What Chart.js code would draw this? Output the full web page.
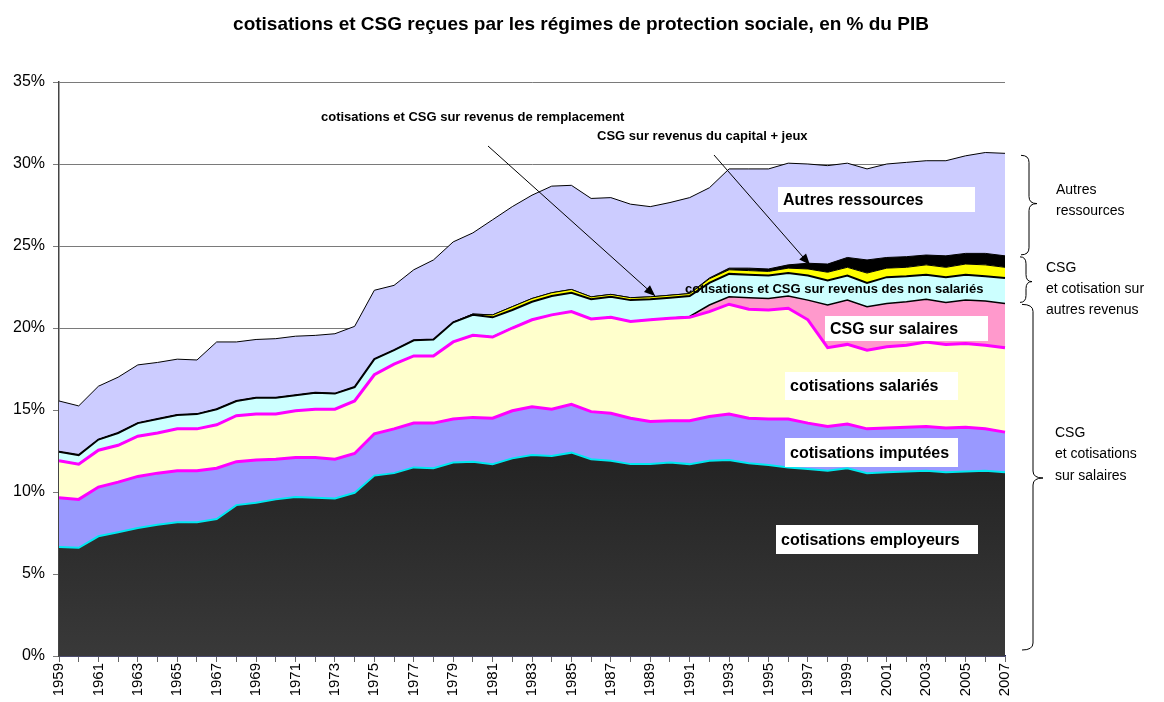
<!DOCTYPE html>
<html>
<head>
<meta charset="utf-8">
<script src="https://cdn.jsdelivr.net/npm/chart.js@4.4.1/dist/chart.umd.min.js"></script>
<style>
  html, body { margin: 0; padding: 0; background: #fff; }
  #wrap { width: 1164px; height: 702px; position: relative; }
</style>
</head>
<body>
<div id="wrap"><canvas id="chart"></canvas></div>
<script>
// années 1959 - 2007
const years = [];
for (let y = 1959; y <= 2007; y++) years.push(String(y));

// valeurs en % du PIB (une couche par série, empilées)
const employeurs = [6.65, 6.6, 7.3, 7.55, 7.8, 8.0, 8.15, 8.15, 8.35, 9.2, 9.35, 9.55, 9.7, 9.65, 9.6, 9.95,
  11.0, 11.15, 11.5, 11.45, 11.8, 11.85, 11.7, 12.05, 12.25, 12.2, 12.4, 12.0, 11.9, 11.7, 11.7, 11.8,
  11.7, 11.9, 11.95, 11.75, 11.65, 11.5, 11.4, 11.3, 11.45, 11.15, 11.2, 11.25, 11.3, 11.2, 11.25, 11.3, 11.2];
const imputees = [3.0, 2.95, 3.0, 3.05, 3.15, 3.15, 3.15, 3.15, 3.1, 2.65, 2.6, 2.45, 2.4, 2.45, 2.4, 2.4,
  2.55, 2.7, 2.7, 2.75, 2.65, 2.7, 2.8, 2.9, 2.95, 2.85, 2.95, 2.9, 2.9, 2.8, 2.6, 2.55,
  2.65, 2.7, 2.8, 2.75, 2.8, 2.95, 2.8, 2.7, 2.7, 2.7, 2.7, 2.7, 2.7, 2.7, 2.7, 2.55, 2.45];
const salaries = [2.25, 2.15, 2.25, 2.25, 2.45, 2.45, 2.55, 2.55, 2.65, 2.8, 2.8, 2.75, 2.85, 2.95, 3.05, 3.2,
  3.6, 3.95, 4.1, 4.1, 4.7, 5.0, 4.95, 5.05, 5.3, 5.75, 5.65, 5.65, 5.85, 5.9, 6.2, 6.25,
  6.3, 6.4, 6.7, 6.65, 6.65, 6.75, 6.3, 4.8, 4.85, 4.8, 4.95, 5.0, 5.15, 5.1, 5.1, 5.1, 5.15];
const csgSalaires = [0, 0, 0, 0, 0, 0, 0, 0, 0, 0, 0, 0, 0, 0, 0, 0,
  0, 0, 0, 0, 0, 0, 0, 0, 0, 0, 0, 0, 0, 0, 0, 0,
  0.05, 0.4, 0.45, 0.7, 0.7, 0.75, 1.2, 2.6, 2.7, 2.65, 2.65, 2.65, 2.6, 2.55, 2.65, 2.7, 2.7];
const nonSalaries = [0.55, 0.55, 0.65, 0.75, 0.8, 0.85, 0.85, 0.9, 0.95, 0.9, 1.0, 1.0, 0.95, 1.0, 0.95, 0.85,
  0.95, 0.85, 0.95, 1.0, 1.2, 1.25, 1.2, 1.1, 1.1, 1.15, 1.15, 1.2, 1.25, 1.3, 1.25, 1.25,
  1.25, 1.35, 1.4, 1.4, 1.4, 1.4, 1.5, 1.5, 1.5, 1.45, 1.6, 1.55, 1.5, 1.55, 1.55, 1.5, 1.55];
const remplacement = [0, 0, 0, 0, 0, 0, 0, 0, 0, 0, 0, 0, 0, 0, 0, 0,
  0, 0, 0, 0, 0, 0.05, 0.15, 0.2, 0.2, 0.2, 0.2, 0.15, 0.15, 0.15, 0.15, 0.15,
  0.15, 0.25, 0.25, 0.25, 0.25, 0.3, 0.4, 0.5, 0.5, 0.6, 0.55, 0.55, 0.6, 0.6, 0.65, 0.7, 0.65];
const capital = [0, 0, 0, 0, 0, 0, 0, 0, 0, 0, 0, 0, 0, 0, 0, 0,
  0, 0, 0, 0, 0, 0, 0, 0, 0, 0, 0, 0, 0, 0, 0, 0,
  0, 0.05, 0.1, 0.15, 0.15, 0.2, 0.35, 0.5, 0.6, 0.8, 0.65, 0.65, 0.6, 0.7, 0.65, 0.7, 0.7];
const autres = [3.1, 3.0, 3.25, 3.4, 3.55, 3.45, 3.4, 3.3, 4.1, 3.6, 3.55, 3.6, 3.6, 3.5, 3.65, 3.7,
  4.2, 3.95, 4.3, 4.85, 4.9, 4.95, 5.8, 6.1, 6.3, 6.5, 6.35, 6.0, 5.9, 5.7, 5.5, 5.65,
  5.85, 5.5, 6.05, 6.05, 6.1, 6.2, 6.05, 6.0, 5.75, 5.55, 5.7, 5.75, 5.75, 5.8, 5.95, 6.15, 6.25];

const yTicks = [0, 5, 10, 15, 20, 25, 30, 35];

const FONT = "'Liberation Sans', Arial, sans-serif";

// dégradé du fond pour les cotisations employeurs
function darkGradient(ctx) {
  const chart = ctx.chart;
  const ca = chart.chartArea;
  if (!ca) return '#2a2a2a';
  const g = chart.ctx.createLinearGradient(0, ca.top + (ca.bottom - ca.top) * 0.62, 0, ca.bottom);
  g.addColorStop(0, '#212121');
  g.addColorStop(1, '#393939');
  return g;
}

function layer(label, data, bg, border, width, fill) {
  return {
    label: label,
    data: data,
    backgroundColor: bg,
    borderColor: border,
    borderWidth: width,
    fill: fill,
    pointRadius: 0,
    pointHoverRadius: 0,
    tension: 0
  };
}

// annotations : titre, étiquettes, flèches, accolades
const annotations = {
  id: 'annotations',
  afterDraw(chart) {
    const c = chart.ctx;
    const x = chart.scales.x, y = chart.scales.y;
    const last = years.length - 1;
    const xAt = (i) => {
      const k = Math.floor(i);
      const f = i - k;
      const p0 = x.getPixelForValue(k);
      return f ? p0 + f * (x.getPixelForValue(k + 1) - p0) : p0;
    };
    c.save();

    // titre
    c.fillStyle = '#000';
    c.font = 'bold 19px ' + FONT;
    c.textAlign = 'center';
    c.textBaseline = 'middle';
    c.fillText('cotisations et CSG reçues par les régimes de protection sociale, en % du PIB', 581, 25);

    // étiquettes sur fond blanc
    const boxes = [
      ['Autres ressources', 778, 187, 197, 25],
      ['CSG sur salaires', 825, 316, 163, 25],
      ['cotisations salariés', 785, 372, 173, 28],
      ['cotisations imputées', 785, 438, 173, 29],
      ['cotisations employeurs', 776, 525, 202, 29]
    ];
    c.textAlign = 'left';
    c.font = 'bold 16px ' + FONT;
    boxes.forEach(b => {
      c.fillStyle = '#fff';
      c.fillRect(b[1], b[2], b[3], b[4]);
      c.fillStyle = '#000';
      c.fillText(b[0], b[1] + 5, b[2] + b[4] / 2 + 1);
    });

    // petites étiquettes
    c.font = 'bold 13px ' + FONT;
    c.fillText('cotisations et CSG sur revenus de remplacement', 321, 117);
    c.fillText('CSG sur revenus du capital + jeux', 597, 136);
    c.fillText('cotisations et CSG sur revenus des non salariés', 685, 289);

    // flèches
    function arrow(x0, y0, x1, y1) {
      c.strokeStyle = '#000';
      c.fillStyle = '#000';
      c.lineWidth = 1;
      c.beginPath();
      c.moveTo(x0, y0);
      c.lineTo(x1, y1);
      c.stroke();
      const a = Math.atan2(y1 - y0, x1 - x0);
      const L = 11, W = 4.5;
      c.beginPath();
      c.moveTo(x1, y1);
      c.lineTo(x1 - L * Math.cos(a) + W * Math.sin(a), y1 - L * Math.sin(a) - W * Math.cos(a));
      c.lineTo(x1 - L * Math.cos(a) - W * Math.sin(a), y1 - L * Math.sin(a) + W * Math.cos(a));
      c.closePath();
      c.fill();
    }
    arrow(488, 146, xAt(30.25), y.getPixelForValue(21.95));
    arrow(714, 155, xAt(38.1), y.getPixelForValue(23.85));

    // accolades à droite (bornes prises sur les valeurs 2007)
    let acc = 0;
    const cum = [employeurs, imputees, salaries, csgSalaires, nonSalaries, remplacement, capital, autres]
      .map(s => (acc += s[last]));
    const yTotal = y.getPixelForValue(cum[7]);
    const yCap = y.getPixelForValue(cum[6]);
    const yCsg = y.getPixelForValue(cum[3]);
    const yZero = y.getPixelForValue(0);

    function brace(x0, stem, tip, top, bottom, mid) {
      const r = 7;
      c.strokeStyle = '#000';
      c.lineWidth = 1;
      c.beginPath();
      c.moveTo(x0, top);
      c.quadraticCurveTo(stem, top, stem, top + r);
      c.lineTo(stem, mid - r);
      c.quadraticCurveTo(stem, mid, tip, mid);
      c.quadraticCurveTo(stem, mid, stem, mid + r);
      c.lineTo(stem, bottom - r);
      c.quadraticCurveTo(stem, bottom, x0, bottom);
      c.stroke();
    }
    brace(1021, 1029, 1037, yTotal + 2, yCap - 1, (yTotal + yCap) / 2 - 1);
    brace(1020, 1026, 1032, yCap + 1, yCsg - 1, (yCap + yCsg) / 2 + 2);
    brace(1022, 1033, 1043, yCsg + 1, yZero - 6, 478);

    c.font = '14px ' + FONT;
    c.fillStyle = '#000';
    [['Autres', 1056, 190], ['ressources', 1056, 211],
     ['CSG', 1046, 268], ['et cotisation sur', 1046, 289], ['autres revenus', 1046, 310],
     ['CSG', 1055, 433], ['et cotisations', 1055, 454], ['sur salaires', 1055, 476]]
      .forEach(t => c.fillText(t[0], t[1], t[2]));

    c.restore();
  }
};

const ctx = document.getElementById('chart').getContext('2d');
const chart = new Chart(ctx, {
  type: 'line',
  data: {
    labels: years,
    datasets: [
      layer('cotisations employeurs', employeurs, darkGradient, '#00e8f0', 2, 'origin'),
      layer('cotisations imputées', imputees, '#9999ff', '#ff00ff', 3, '-1'),
      layer('cotisations salariés', salaries, '#ffffcc', '#ff00ff', 3, '-1'),
      layer('CSG sur salaires', csgSalaires, '#ff99cc', '#000000', 1.5, '-1'),
      layer('cotisations et CSG sur revenus des non salariés', nonSalaries, '#ccffff', '#000000', 2, '-1'),
      layer('cotisations et CSG sur revenus de remplacement', remplacement, '#ffff00', '#000000', 1, '-1'),
      layer('CSG sur revenus du capital + jeux', capital, '#000000', '#000000', 1, '-1'),
      layer('Autres ressources', autres, '#ccccff', '#000000', 1, '-1')
    ]
  },
  options: {
    responsive: true,
    maintainAspectRatio: false,
    animation: false,
    layout: { padding: { top: 82, right: 159, left: 0, bottom: 0 } },
    plugins: {
      legend: { display: false },
      title: { display: false },
      tooltip: { enabled: false }
    },
    scales: {
      x: {
        offset: false,
        afterFit: (s) => { s.height = 46; },
        grid: { drawOnChartArea: false, drawTicks: true, tickLength: 6, color: '#666' },
        border: { color: '#1a1a60', width: 1.5 },
        ticks: {
          autoSkip: false,
          minRotation: 90,
          maxRotation: 90,
          padding: 1,
          color: '#000',
          font: { family: FONT, size: 15 },
          callback: function (val, idx) { return idx % 2 === 0 ? this.getLabelForValue(val) : ''; }
        }
      },
      y: {
        stacked: true,
        min: 0,
        max: 35,
        afterFit: (s) => { s.width = 59; },
        afterBuildTicks: (s) => { s.ticks = yTicks.map(v => ({ value: v })); },
        grid: { color: '#7a7a7a', lineWidth: 1, tickLength: 6, drawTicks: true },
        border: { color: '#444', width: 1.5 },
        ticks: {
          color: '#000',
          padding: 8,
          font: { family: FONT, size: 16 },
          callback: (v) => v + '%'
        }
      }
    }
  },
  plugins: [annotations]
});
</script>
</body>
</html>
